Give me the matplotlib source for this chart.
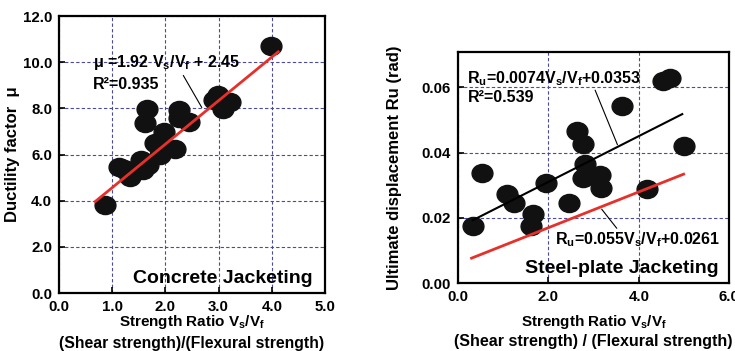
import matplotlib
matplotlib.use("Agg")
import matplotlib.pyplot as plt
import numpy as np
from matplotlib.path import Path
from matplotlib.transforms import Affine2D

plt.rcParams['font.family'] = ['Liberation Sans', 'DejaVu Sans']
plt.rcParams['font.weight'] = 'bold'
plt.rcParams['mathtext.fontset'] = 'custom'
plt.rcParams['mathtext.rm'] = 'Liberation Sans:bold'
plt.rcParams['mathtext.it'] = 'Liberation Sans:bold'
plt.rcParams['mathtext.bf'] = 'Liberation Sans:bold'
plt.rcParams['mathtext.default'] = 'rm'

# ---------------- data ----------------
# Concrete jacketing: strength ratio vs ductility factor
cj_ratio = [0.86, 1.12, 1.22, 1.33, 1.55, 1.58, 1.67, 1.62, 1.65, 1.80, 1.90,
            1.97, 2.18, 2.25, 2.26, 2.45, 2.92, 2.98, 3.05, 3.09, 3.22, 3.98]
cj_ductility = [3.80, 5.45, 5.38, 5.03, 5.75, 5.32, 5.55, 7.38, 7.98, 6.48, 5.98,
                6.98, 6.25, 7.93, 7.57, 7.42, 8.35, 8.58, 8.38, 7.95, 8.28, 10.70]
cj_fit = (1.885, 2.68)          # slope, intercept as drawn
cj_fit_range = (0.68, 4.12)

# Steel-plate jacketing: strength ratio vs ultimate displacement
sp_ratio = [0.33, 0.54, 1.08, 1.24, 1.67, 1.61, 1.94, 2.46, 2.63, 2.76, 2.81,
            2.77, 3.13, 3.16, 3.63, 4.18, 4.53, 4.68, 4.99]
sp_ru = [0.0174, 0.0336, 0.0274, 0.0244, 0.0213, 0.0174, 0.0307, 0.0246, 0.0467,
         0.0426, 0.0365, 0.0321, 0.0331, 0.0290, 0.0543, 0.0287, 0.0620, 0.0628, 0.0420]
sp_fit_black = (0.00702, 0.01695)
sp_fit_black_range = (0.33, 4.96)
sp_fit_red = (0.00549, 0.00597)
sp_fit_red_range = (0.30, 4.99)

cj_xticks = [0.0, 1.0, 2.0, 3.0, 4.0, 5.0]
cj_yticks = [0.0, 2.0, 4.0, 6.0, 8.0, 10.0, 12.0]
sp_xticks = [0.0, 2.0, 4.0, 6.0]
sp_yticks = [0.00, 0.02, 0.04, 0.06]

# ---------------- style ----------------
GRID = '#4b4b9b'
RED = '#e8302a'
ellipse = Path.unit_circle().transformed(Affine2D().scale(1.15, 1.0))

fig = plt.figure(figsize=(7.35, 3.51), dpi=100)
ax1 = fig.add_axes([0.0803, 0.1652, 0.3619, 0.7892])
ax2 = fig.add_axes([0.6231, 0.1937, 0.3691, 0.6590])


def style(ax, xticks, yticks, xfmt, yfmt, xlim, ylim):
    ax.set_xlim(*xlim)
    ax.set_ylim(*ylim)
    ax.set_xticks(xticks)
    ax.set_yticks(yticks)
    ax.set_xticklabels([xfmt.format(v) for v in xticks])
    ax.set_yticklabels([yfmt.format(v) for v in yticks])
    ax.tick_params(direction='in', length=4, width=1.2, labelsize=10.8, pad=5,
                   top=False, right=False)
    for lab in ax.get_xticklabels() + ax.get_yticklabels():
        lab.set_fontweight('bold')
    for sp in ax.spines.values():
        sp.set_linewidth(1.6)
    ax.grid(True, color=GRID, linestyle=(0, (3, 2)), linewidth=0.8)
    ax.set_axisbelow(True)


# ---------- left panel ----------
style(ax1, cj_xticks, cj_yticks, '{:.1f}', '{:.1f}', (0, 5), (0, 12))
ax1.plot(cj_ratio, cj_ductility, linestyle='none', marker=ellipse,
         markersize=15, color='#111111', zorder=3)
xx = np.array(cj_fit_range)
ax1.plot(xx, cj_fit[0] * xx + cj_fit[1], color=RED, lw=2.0, zorder=4)
ax1.text(0.64, 9.97, r'μ =1.92 $V_s/V_f$ + 2.45', fontsize=11.5, fontweight='bold',
         va='center', ha='left')
ax1.text(0.64, 9.05, 'R²=0.935', fontsize=11.5, fontweight='bold', va='center', ha='left')
ax1.annotate('', xy=(2.71, 7.93), xytext=(2.31, 9.53),
             arrowprops=dict(arrowstyle='-', color='black', lw=0.8))
ax1.text(4.77, 0.65, 'Concrete Jacketing', fontsize=14, fontweight='bold',
         ha='right', va='center')
ax1.set_ylabel('Ductility factor  μ', fontsize=12, fontweight='bold')
ax1.yaxis.set_label_coords(-0.147, 0.5)
ax1.text(0.5, -0.1036, r'Strength Ratio $V_s/V_f$', transform=ax1.transAxes,
         ha='center', va='center', fontsize=11, fontweight='bold')
ax1.text(0.5, -0.1816, '(Shear strength)/(Flexural strength)', transform=ax1.transAxes,
         ha='center', va='center', fontsize=11.3, fontweight='bold')

# ---------- right panel ----------
style(ax2, sp_xticks, sp_yticks, '{:.1f}', '{:.2f}', (0, 6), (0, 0.0709))
ax2.plot(sp_ratio, sp_ru, linestyle='none', marker=ellipse,
         markersize=15, color='#111111', zorder=3)
xb = np.array(sp_fit_black_range)
ax2.plot(xb, sp_fit_black[0] * xb + sp_fit_black[1], color='black', lw=1.5, zorder=4)
xr = np.array(sp_fit_red_range)
ax2.plot(xr, sp_fit_red[0] * xr + sp_fit_red[1], color=RED, lw=2.0, zorder=4)
ax2.text(0.21, 0.0626, r'$R_u$=0.0074$V_s/V_f$+0.0353', fontsize=11.5, fontweight='bold',
         va='center', ha='left')
ax2.text(0.21, 0.0568, 'R²=0.539', fontsize=11.5, fontweight='bold', va='center', ha='left')
ax2.annotate('', xy=(3.55, 0.0416), xytext=(3.01, 0.0599),
             arrowprops=dict(arrowstyle='-', color='black', lw=0.8))
ax2.annotate('', xy=(3.55, 0.0161), xytext=(3.14, 0.0233),
             arrowprops=dict(arrowstyle='-', color='black', lw=0.8))
ax2.text(2.15, 0.0133, r'$R_u$=0.055$V_s/V_f$+0.0261', fontsize=11.5, fontweight='bold',
         va='center', ha='left')
ax2.text(5.76, 0.00437, 'Steel-plate Jacketing', fontsize=14, fontweight='bold',
         ha='right', va='center')
ax2.set_ylabel('Ultimate displacement Ru (rad)', fontsize=12, fontweight='bold')
ax2.yaxis.set_label_coords(-0.207, 0.5)
ax2.text(0.5, -0.1673, r'Strength Ratio $V_s/V_f$', transform=ax2.transAxes,
         ha='center', va='center', fontsize=11, fontweight='bold')
ax2.text(0.5, -0.2538, '(Shear strength) / (Flexural strength)', transform=ax2.transAxes,
         ha='center', va='center', fontsize=11.5, fontweight='bold')

fig.savefig('out.png', dpi=100)
